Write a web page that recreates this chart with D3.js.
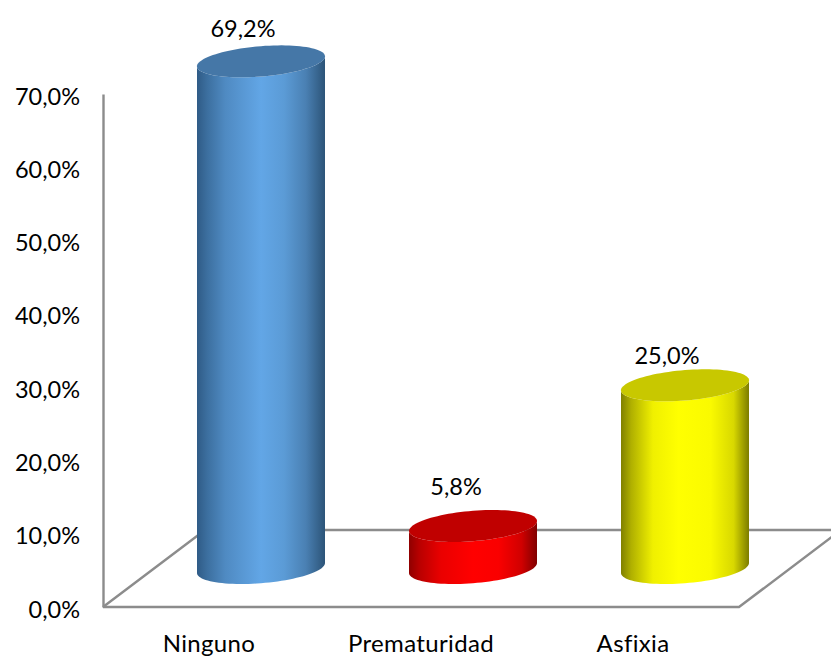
<!DOCTYPE html>
<html><head><meta charset="utf-8">
<script src="https://cdn.jsdelivr.net/npm/d3@7"></script>
<style>html,body{margin:0;padding:0;background:#fff}svg{display:block}text{font-family:Lato,"Open Sans",sans-serif;fill:#000}</style>
</head><body><div id="c"></div>
<script>
const categories = ["Ninguno","Prematuridad","Asfixia"];
const values = [69.2,5.8,25.0];
const valueLabels = ["69,2%","5,8%","25,0%"];
const yTicks = [0,10,20,30,40,50,60,70];
const sideStops = [
 [["0%","#2f5b86"],["8%","#3c6f9f"],["22%","#4f8ac2"],["50%","#62a6e6"],["68%","#5b9bd6"],["85%","#4a80b3"],["100%","#2c5478"]],
 [["0%","#8f0000"],["8%","#b80000"],["25%","#ea0000"],["50%","#ff0000"],["70%","#fa0000"],["88%","#d00000"],["100%","#800000"]],
 [["0%","#808000"],["8%","#b0b000"],["25%","#f0f000"],["45%","#ffff00"],["70%","#fafa00"],["88%","#d8d800"],["100%","#7c7c00"]]
];
const topColors = ["#4577a7","#c00000","#c8c800"];
const labelDx = [-18,-17,-18], labelDy = [-24,-31,-21];
const W=831,H=658;
const svg=d3.select("#c").append("svg").attr("width",W).attr("height",H);
const y=d3.scaleLinear().domain([0,70]).range([607,94]);
const x=d3.scaleBand().domain(categories).range([103,739]);
const depthX=102, depthY=77, a=64, b=15.2, k=5;
const gray="#8c8c8c";
const defs=svg.append("defs");
categories.forEach((c,i)=>{
 const g=defs.append("linearGradient").attr("id","g"+i).attr("x1",0).attr("x2",1).attr("y1",0).attr("y2",0);
 sideStops[i].forEach(s=>g.append("stop").attr("offset",s[0]).attr("stop-color",s[1]));
});
// floor + back wall
const floor=svg.append("g").attr("fill","none").attr("stroke",gray).attr("stroke-width",2.4);
const fl=d3.line();
floor.append("path").attr("d",fl([[x.range()[0],y(0)],[x.range()[0]+depthX,y(0)-depthY],[W+5,y(0)-depthY]]));
floor.append("path").attr("d",fl([[x.range()[0],y(0)],[x.range()[1],y(0)],[x.range()[1]+depthX,y(0)-depthY]]));
// y axis
const ax=svg.append("g").attr("transform",`translate(${x.range()[0]},0)`)
 .call(d3.axisLeft(y).tickValues(yTicks).tickSize(0).tickPadding(23).tickFormat(d=>d3.format(".1f")(d).replace(".",",")+"%"));
ax.select(".domain").attr("stroke",gray).attr("stroke-width",2.4);
ax.selectAll("text").attr("font-size",23.5).attr("dy",10).style("font-family","Lato");
// x labels
svg.selectAll(".xl").data(categories).join("text").attr("class","xl")
 .attr("x",d=>x(d)+x.bandwidth()/2).attr("y",652).attr("text-anchor","middle").attr("font-size",24).attr("letter-spacing",0.35).text(d=>d);
// cylinders
const ts=d3.range(0,97).map(i=>i/96*2*Math.PI);
const ell=(cx,cy,t)=>[cx+a*Math.cos(t),cy+b*Math.sin(t)-k*Math.cos(t)];
const closed=d3.line().curve(d3.curveLinearClosed);
categories.forEach((c,i)=>{
 const cx=x(c)+x.bandwidth()/2+52;
 const yb=y(0)-39;
 const yt=y(values[i])-38.5;
 const half=ts.filter(t=>t<=Math.PI+1e-6);
 const pts=half.map(t=>ell(cx,yb,t)).concat(half.slice().reverse().map(t=>ell(cx,yt,t)));
 svg.append("path").attr("d",closed(pts)).attr("fill",`url(#g${i})`);
 svg.append("path").attr("d",closed(ts.map(t=>ell(cx,yt,t)))).attr("fill",topColors[i]);
 svg.append("text").attr("x",cx+labelDx[i]).attr("y",yt+labelDy[i]).attr("text-anchor","middle").attr("font-size",23.5).text(valueLabels[i]);
});
</script></body></html>
